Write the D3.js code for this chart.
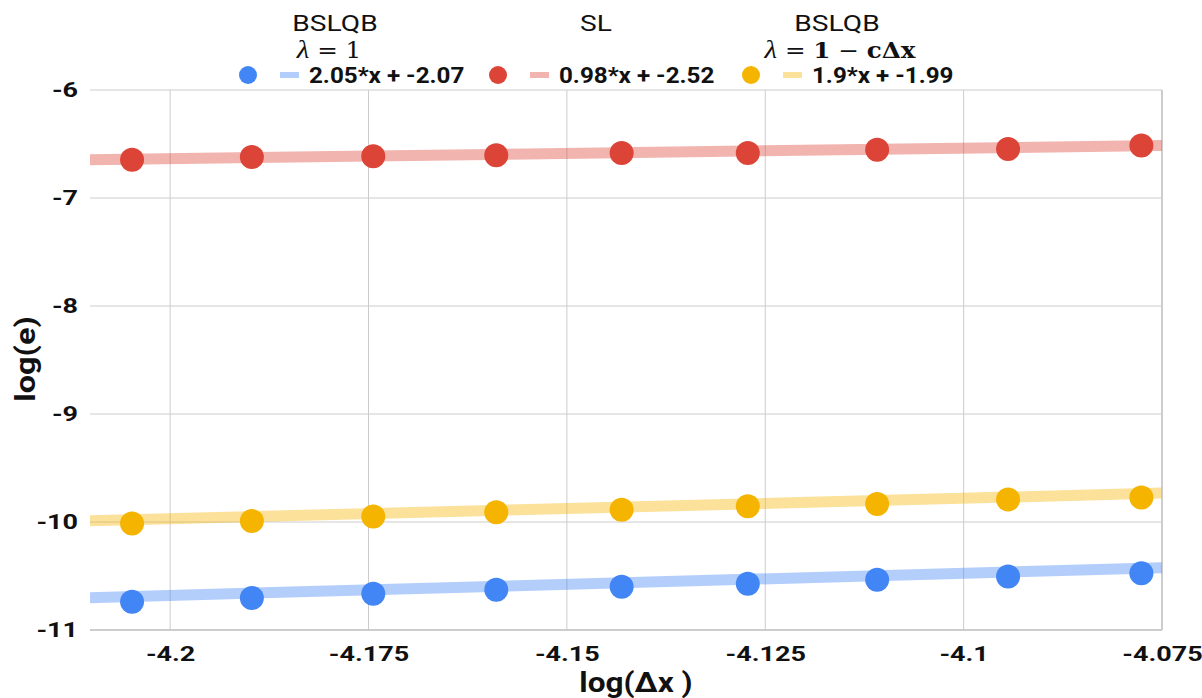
<!DOCTYPE html>
<html><head><meta charset="utf-8">
<script src="https://cdn.jsdelivr.net/npm/d3@7"></script>
<style>body{margin:0;background:#fff}svg{display:block}</style>
</head><body><svg id="c" width="1202" height="698"></svg>
<script>
const xVals = [-4.2048, -4.1897, -4.1744, -4.1589, -4.1431, -4.1272, -4.1109, -4.0944, -4.0776];
const blueVals = [-10.739, -10.703, -10.664, -10.628, -10.600, -10.571, -10.534, -10.505, -10.475];
const redVals = [-6.646, -6.620, -6.614, -6.605, -6.583, -6.583, -6.553, -6.546, -6.513];
const yellowVals = [-10.014, -9.991, -9.949, -9.910, -9.887, -9.854, -9.833, -9.791, -9.774];
const trendSlopes = [2.05, 0.98, 1.9];
const trendIntercepts = [-2.07, -2.52, -1.99];
const legendLabels = ["2.05*x + -2.07", "0.98*x + -2.52", "1.9*x + -1.99"];
const legendTitles = ["BSLQB", "SL", "BSLQB"];
const xTicks = [-4.2, -4.175, -4.15, -4.125, -4.1, -4.075];
const xTickLabels = ["-4.2", "-4.175", "-4.15", "-4.125", "-4.1", "-4.075"];
const yTicks = [-11, -10, -9, -8, -7, -6];
const colors = ["#4285f4", "#db4437", "#f4b400"];

const svg = d3.select("#c");
const L = 90, R = 1162, T = 90, B = 630;
const x = d3.scaleLinear().domain([-4.2101, -4.075]).range([L, R]);
const y = d3.scaleLinear().domain([-11, -6]).range([B, T]);
const font = "Roboto, 'Open Sans', sans-serif";

function addText(parent, tx, ty, sx, anchor) {
  return parent.append("g").attr("transform", `translate(${tx},${ty}) scale(${sx},1)`)
    .append("text").attr("text-anchor", anchor || "start").attr("fill", "#111");
}

// grid
svg.append("g").selectAll("line").data(xTicks).join("line")
  .attr("x1", d => x(d)).attr("x2", d => x(d)).attr("y1", T).attr("y2", B)
  .attr("stroke", "#cccccc").attr("stroke-width", 1);
svg.append("g").selectAll("line").data(yTicks).join("line")
  .attr("x1", L).attr("x2", R).attr("y1", d => y(d)).attr("y2", d => y(d))
  .attr("stroke", "#cccccc").attr("stroke-width", 1);
svg.append("line").attr("x1", L).attr("x2", R).attr("y1", B).attr("y2", B).attr("stroke", "#c4c4c4").attr("stroke-width", 1.5);
svg.append("line").attr("x1", R).attr("x2", R).attr("y1", T).attr("y2", B).attr("stroke", "#c4c4c4").attr("stroke-width", 1.5);

// axes
const tickScale = 1.35;
const xAxis = d3.axisBottom(x).tickValues(xTicks).tickFormat((d, i) => xTickLabels[i]).tickSize(0).tickPadding(17);
const gx = svg.append("g").attr("transform", `translate(0,${B})`).call(xAxis);
gx.select(".domain").remove();
gx.selectAll("text").attr("font-family", font).attr("font-weight", "bold").attr("font-size", 20).attr("fill", "#111")
  .attr("transform", `scale(${tickScale},1)`);

const yAxis = d3.axisLeft(y).tickValues(yTicks).tickFormat(d => String(d)).tickSize(0).tickPadding(12);
const gy = svg.append("g").attr("transform", `translate(${L},0)`).call(yAxis);
gy.select(".domain").remove();
gy.selectAll("text").attr("font-family", font).attr("font-weight", "bold").attr("font-size", 20).attr("fill", "#111")
  .attr("x", -12 / tickScale).attr("transform", `scale(${tickScale},1)`);

// clip
svg.append("clipPath").attr("id", "clip").append("rect").attr("x", L).attr("y", T - 20).attr("width", R - L).attr("height", B - T + 40);

const series = [blueVals, redVals, yellowVals];
const plot = svg.append("g").attr("clip-path", "url(#clip)");
const dom = x.domain();
series.forEach((s, i) => {
  const pts = dom.map(xv => [xv, trendSlopes[i] * xv + trendIntercepts[i]]);
  plot.append("path").attr("d", d3.line().x(d => x(d[0])).y(d => y(d[1]))(pts))
    .attr("stroke", colors[i]).attr("stroke-opacity", 0.4).attr("stroke-width", 11).attr("fill", "none");
});
series.forEach((s, i) => {
  svg.append("g").selectAll("circle").data(s).join("circle")
    .attr("cx", (d, j) => x(xVals[j])).attr("cy", d => y(d)).attr("r", 12).attr("fill", colors[i]);
});

// legend
const lg = svg.append("g");
const legX = [248, 498, 751];
const titleX = [335, 596, 837];
legX.forEach((cx, i) => {
  lg.append("circle").attr("cx", cx).attr("cy", 75).attr("r", 9).attr("fill", colors[i]);
  lg.append("line").attr("x1", cx + 32).attr("x2", cx + 51).attr("y1", 75).attr("y2", 75)
    .attr("stroke", colors[i]).attr("stroke-opacity", 0.4).attr("stroke-width", 6);
  addText(lg, cx + 61, 83, 1.1).text(legendLabels[i])
    .attr("font-family", font).attr("font-weight", "bold").attr("font-size", 22);
  addText(lg, titleX[i], 31, 1.28, "middle").text(legendTitles[i])
    .attr("font-family", font).attr("font-size", 22);
});
const mathFont = "'DejaVu Serif', 'Liberation Serif', serif";
const m1 = addText(lg, 329, 58, 1.12, "middle").attr("font-family", mathFont).attr("font-size", 22);
m1.append("tspan").attr("font-style", "italic").attr("font-family", "'Liberation Serif', serif").attr("font-size", 26).text("λ");
m1.append("tspan").text(" = 1");
const m2 = addText(lg, 840, 58, 1.12, "middle").attr("font-family", mathFont).attr("font-size", 22);
m2.append("tspan").attr("font-style", "italic").attr("font-family", "'Liberation Serif', serif").attr("font-size", 26).text("λ");
m2.append("tspan").text(" = ");
m2.append("tspan").attr("font-weight", "bold").text("1");
m2.append("tspan").text(" − ");
m2.append("tspan").attr("font-weight", "bold").text("cΔx");

// axis titles
addText(svg, 636, 692, 1.17, "middle").text("log(Δx )")
  .attr("font-family", font).attr("font-weight", "bold").attr("font-size", 27);
svg.append("g").attr("transform", "translate(35,359) rotate(-90) scale(1.2,1)")
  .append("text").attr("text-anchor", "middle").text("log(e)").attr("fill", "#111")
  .attr("font-family", font).attr("font-weight", "bold").attr("font-size", 27);
</script></body></html>
